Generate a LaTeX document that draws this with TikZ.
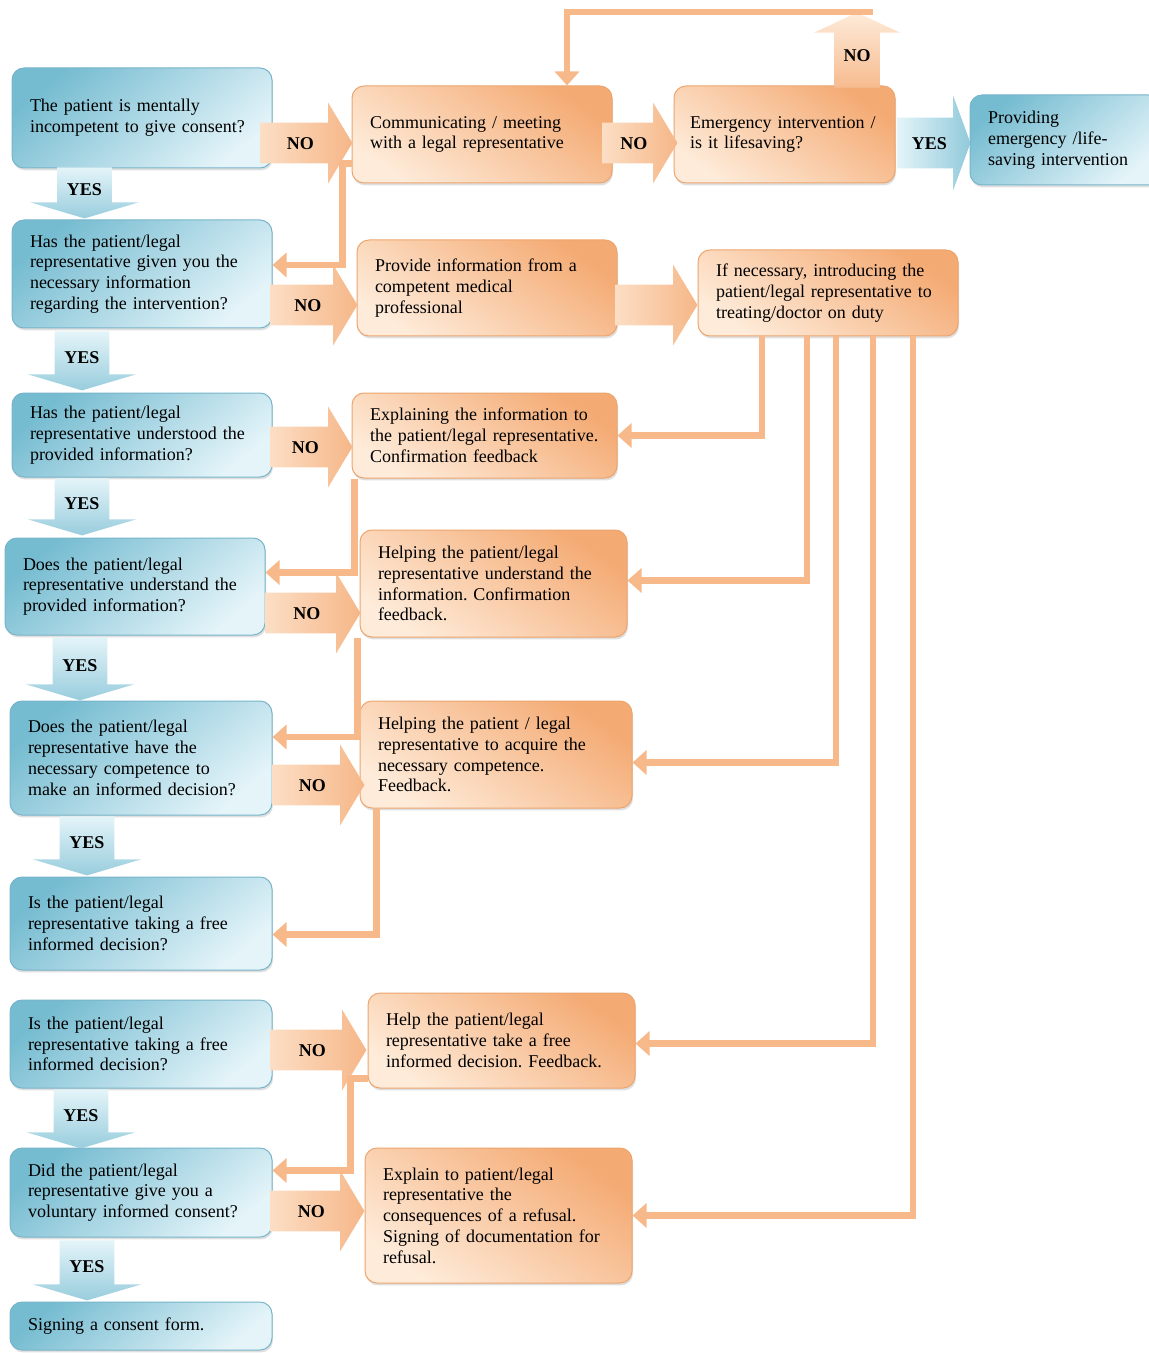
\documentclass[tikz,border=0pt]{standalone}
\usepackage{fontspec}
\setmainfont{Liberation Serif}
\usepackage{xcolor}
\usepackage{tikz}
\usetikzlibrary{shapes.arrows,arrows.meta,calc,shadows}
\definecolor{qdark}{RGB}{118,188,209}
\definecolor{qlight}{RGB}{228,244,249}
\definecolor{qedge}{RGB}{120,180,202}
\definecolor{odark}{RGB}{244,170,115}
\definecolor{olight}{RGB}{254,235,217}
\definecolor{oedge}{RGB}{236,165,110}
\definecolor{olink}{RGB}{247,185,138}
\frenchspacing
\pgfkeys{tikz/myflowenv/.style={x=0.5pt,y=-0.5pt,font=\fontsize{9}{10.4}\selectfont}}
\pgfkeys{tikz/mybox/.style={rectangle,rounded corners=6pt,align=left,inner xsep=9pt,line width=0.5pt,drop shadow={shadow xshift=0.5pt,shadow yshift=-1.2pt,opacity=0.25}}}
\pgfkeys{tikz/myquestion/.style={mybox,draw=qedge,top color=qdark,bottom color=qlight,shading angle=40}}
\pgfkeys{tikz/myaction/.style={mybox,draw=oedge,top color=odark,bottom color=olight,shading angle=-35}}
\pgfkeys{tikz/myfat/.style={shape=single arrow,anchor=tail,inner ysep=0pt,text height=6.5pt,text depth=0pt,font=\fontsize{9}{10}\selectfont\bfseries}}
\pgfkeys{tikz/mynoarrow/.style={myfat,single arrow head extend=10pt,single arrow tip angle=118,inner xsep=1pt,inner ysep=6.75pt,left color=olight!80!odark,right color=odark!85!white}}
\pgfkeys{tikz/mynoup/.style={myfat,shape border rotate=90,single arrow head extend=10pt,single arrow tip angle=130,inner xsep=4.5pt,inner ysep=1pt,bottom color=odark!80!white,top color=olight}}
\pgfkeys{tikz/myyesarrow/.style={myfat,shape border rotate=270,single arrow head extend=13.5pt,single arrow tip angle=147,inner xsep=4.75pt,inner ysep=1pt,top color=qlight,bottom color=qdark!75!white}}
\pgfkeys{tikz/myyesright/.style={myfat,single arrow head extend=11pt,single arrow tip angle=140,inner xsep=1pt,inner ysep=9.25pt,left color=qlight,right color=qdark!80!white}}
\pgfkeys{tikz/mylink/.style={draw=olink,line width=3.25pt,-{Triangle[length=7pt,width=12pt]}}}
\newcommand*\mydutylink[3]{
    \draw[mylink] ($(d1.south)+(#1,0)$) |- ($(#2.east)+(0,#3)$);
}
\newcommand*\mybacklink[4]{
    \draw[mylink] ($(#1.south west)+(#2,0)$) |- ($(#3.east)+(0,#4)$);
}

\begin{document}
\begin{tikzpicture}[myflowenv]
    \useasboundingbox (0,0) rectangle (1148,1353);
    % questions
    \node[myquestion,minimum width=130pt,minimum height=50pt,text width=112pt] (q1) at (142,118) {The patient is mentally\\ incompetent to give consent?};
    \node[myquestion,minimum width=130pt,minimum height=54pt,text width=112pt] (q2) at (142,274) {Has the patient/legal\\ representative given you the\\ necessary information\\ regarding the intervention?};
    \node[myquestion,minimum width=130pt,minimum height=42pt,text width=112pt] (q3) at (142,435) {Has the patient/legal\\ representative understood the\\ provided information?};
    \node[myquestion,minimum width=130pt,minimum height=48.5pt,text width=112pt] (q4) at (135,586.5) {Does the patient/legal\\ representative understand the\\ provided information?};
    \node[myquestion,minimum width=131pt,minimum height=57pt,text width=113pt] (q5) at (141,758) {Does the patient/legal\\ representative have the\\ necessary competence to\\ make an informed decision?};
    \node[myquestion,minimum width=131pt,minimum height=46.5pt,text width=113pt] (q6) at (141,923.5) {Is the patient/legal\\ representative taking a free\\ informed decision?};
    \node[myquestion,minimum width=131pt,minimum height=44pt,text width=113pt] (q7) at (141,1044) {Is the patient/legal\\ representative taking a free\\ informed decision?};
    \node[myquestion,minimum width=131pt,minimum height=44.5pt,text width=113pt] (q8) at (141,1192.5) {Did the patient/legal\\ representative give you a\\ voluntary informed consent?};
    \node[myquestion,minimum width=131pt,minimum height=24pt,text width=113pt] (q9) at (141,1326) {Signing a consent form.};
    \node[myquestion,minimum width=95pt,minimum height=45pt,text width=77pt] (qr) at (1065,140) {Providing\\ emergency /life-\\ saving intervention};
    % actions
    \node[myaction,minimum width=130pt,minimum height=48.5pt,text width=112pt] (c1) at (482,134.5) {Communicating / meeting\\ with a legal representative};
    \node[myaction,minimum width=110.5pt,minimum height=48.5pt,text width=94.5pt,inner xsep=8pt] (e1) at (784.5,134.5) {Emergency intervention /\\ is it lifesaving?};
    \node[myaction,minimum width=130pt,minimum height=48pt,text width=112pt] (i1) at (487,288) {Provide information from a\\ competent medical\\ professional};
    \node[myaction,minimum width=130pt,minimum height=43pt,text width=112pt] (d1) at (828,293) {If necessary, introducing the\\ patient/legal representative to\\ treating/doctor on duty};
    \node[myaction,minimum width=132.5pt,minimum height=42.5pt,text width=114.5pt] (x1) at (484.5,435.5) {Explaining the information to\\ the patient/legal representative.\\ Confirmation feedback};
    \node[myaction,minimum width=133.5pt,minimum height=53.5pt,text width=115.5pt] (h1) at (493.5,583.5) {Helping the patient/legal\\ representative understand the\\ information. Confirmation\\ feedback.};
    \node[myaction,minimum width=136pt,minimum height=53.5pt,text width=118pt] (h2) at (496,754.5) {Helping the patient / legal\\ representative to acquire the\\ necessary competence.\\ Feedback.};
    \node[myaction,minimum width=133.5pt,minimum height=47.5pt,text width=115.5pt] (h3) at (501.5,1040.5) {Help the patient/legal\\ representative take a free\\ informed decision. Feedback.};
    \node[myaction,minimum width=133.5pt,minimum height=67.5pt,text width=115.5pt] (h4) at (498.5,1215.5) {Explain to patient/legal\\ representative the\\ consequences of a refusal.\\ Signing of documentation for\\ refusal.};
    % block arrows
    \node[mynoarrow,minimum height=46pt] (n1) at (260,143) {NO};
    \node[mynoarrow,minimum height=43.5pt] (n2) at (270,305) {NO};
    \node[mynoarrow,minimum height=41pt] (n3) at (270,447) {NO};
    \node[mynoarrow,minimum height=47.5pt] (n4) at (265,613) {NO};
    \node[mynoarrow,minimum height=46pt] (n5) at (272,785) {NO};
    \node[mynoarrow,minimum height=48pt] (n6) at (270,1050) {NO};
    \node[mynoarrow,minimum height=47pt] (n7) at (270,1211) {NO};
    \node[mynoarrow,minimum height=37.5pt] (n8) at (602,143) {NO};
    \node[mynoarrow,minimum height=41pt] (n9) at (615,305) {};
    \node[mynoup,minimum height=37.5pt] (eup) at (857,88) {NO};
    \node[myyesright,minimum height=36.5pt] (yr) at (897,143) {YES};
    \node[myyesarrow,minimum height=25.5pt] (y1) at (84.5,167) {YES};
    \node[myyesarrow,minimum height=29.5pt] (y2) at (82,331) {YES};
    \node[myyesarrow,minimum height=28.5pt] (y3) at (82,478) {YES};
    \node[myyesarrow,minimum height=31.5pt] (y4) at (80,637) {YES};
    \node[myyesarrow,minimum height=29.5pt] (y5) at (87,816) {YES};
    \node[myyesarrow,minimum height=29.5pt] (y6) at (81,1089) {YES};
    \node[myyesarrow,minimum height=30pt] (y7) at (87,1240) {YES};
    % feedback lines
    \draw[mylink] ($(eup.tip)+(16,0)$) -| ($(c1.north)+(85,0)$);
    \draw[mylink] ($(c1.south west)+(0,-20)$) -- ++(-9,0) |- ($(q2.east)+(0,-9)$);
    \mydutylink{-66}{x1}{0}
    \mydutylink{-21}{h1}{-3}
    \mydutylink{8}{h2}{8}
    \mydutylink{45}{h3}{3}
    \mydutylink{85}{h4}{0}
    \mybacklink{x1}{3}{q4}{-14}
    \mybacklink{h1}{-2}{q5}{-21}
    \mybacklink{h2}{17}{q6}{11}
    \draw[mylink] ($(h3.south west)+(0,-10)$) -- ++(-17,0) |- ($(q8.east)+(0,-22)$);
\end{tikzpicture}
\end{document}
